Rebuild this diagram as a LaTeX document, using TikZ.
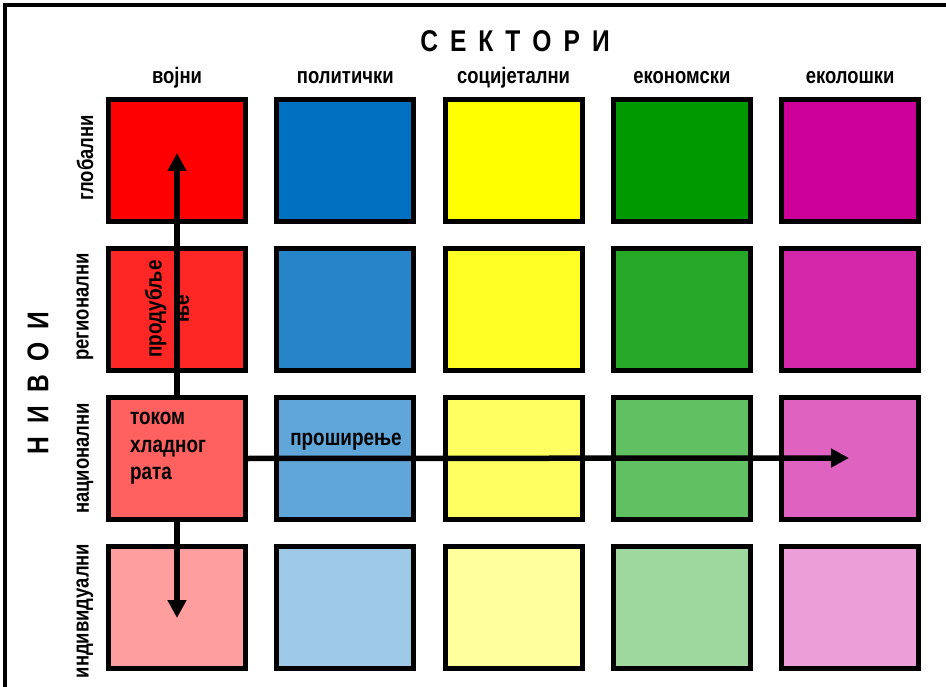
\documentclass[tikz,border=0pt]{standalone}
\usepackage{fontspec}
\setmainfont{Liberation Sans}[FakeStretch=0.82]
\usetikzlibrary{arrows.meta}
\definecolor{cA}{HTML}{FF0000}
\definecolor{cB}{HTML}{0070C0}
\definecolor{cC}{HTML}{FFFF00}
\definecolor{cD}{HTML}{009900}
\definecolor{cE}{HTML}{CC0099}
\begin{document}
\begin{tikzpicture}[x=1pt,y=-1pt,
  box/.style={draw=black,line width=5pt,minimum width=137pt,minimum height=122pt,inner sep=0pt},
  collab/.style={font=\bfseries\fontsize{22.5}{26}\selectfont,inner sep=0pt},
  rowlab/.style={font=\bfseries\fontsize{22.5}{26}\selectfont,inner sep=0pt,rotate=90},
  bigt/.style={font=\bfseries\fontsize{30}{32}\selectfont,inner sep=0pt},
  intext/.style={font=\bfseries\fontsize{23}{27.5}\selectfont,inner sep=0pt},
  arr/.style={line width=5.5pt,-{Triangle[length=18pt,width=18pt]}}]
\useasboundingbox (0,0) rectangle (946,687);
\draw[line width=4pt] (5,700) -- (5,5) -- (960,5);
% boxes
\foreach \c/\col in {1/cA,2/cB,3/cC,4/cD,5/cE}{
  \pgfmathsetmacro{\cx}{177+168.3*(\c-1)}
  \node[box,fill=\col] (b\c1) at (\cx,160.5) {};
  \node[box,fill=\col!85!white] (b\c2) at (\cx,309.5) {};
  \node[box,fill=\col!62!white] (b\c3) at (\cx,458.5) {};
  \node[box,fill=\col!38!white] (b\c4) at (\cx,607.5) {};
}
% titles
\node[bigt] (sek) at (515,41) {С\hspace{12pt}Е\hspace{12pt}К\hspace{12pt}Т\hspace{12pt}О\hspace{12pt}Р\hspace{12pt}И};
\node[bigt,rotate=90] (niv) at (38,383) {Н\hspace{13pt}И\hspace{13pt}В\hspace{13pt}О\hspace{13pt}И};
\node[collab,anchor=base] (k1) at (177,84) {војни};
\node[collab,anchor=base] (k2) at (345.3,84) {политички};
\node[collab,anchor=base] (k3) at (513.6,84) {социјетални};
\node[collab,anchor=base] (k4) at (681.9,84) {економски};
\node[collab,anchor=base] (k5) at (850.2,84) {еколошки};
\node[rowlab] (r1) at (85,158) {глобални};
\node[rowlab] (r2) at (85,307) {регионални};
\node[rowlab] (r3) at (85,458.5) {национални};
\node[rowlab] (r4) at (85,611) {индивидуални};
% inner texts
\node[intext,align=left,anchor=north west] (hlad) at (130,412) {током\\хладног\\рата};
\node[intext,anchor=base] (pros) at (346,445) {проширење};
\node[intext,rotate=90,align=center] (prod) at (167,309) {продубље\\ње};
% arrows
\coordinate (upTip) at (177,153);
\coordinate (downTip) at (177,618);
\coordinate (rightTip) at (849,458);
\draw[arr] (b13.north) -- (upTip);
\draw[arr] (b13.south) -- (downTip);
\draw[arr] (b13.east) -- (rightTip);
\end{tikzpicture}
\end{document}
